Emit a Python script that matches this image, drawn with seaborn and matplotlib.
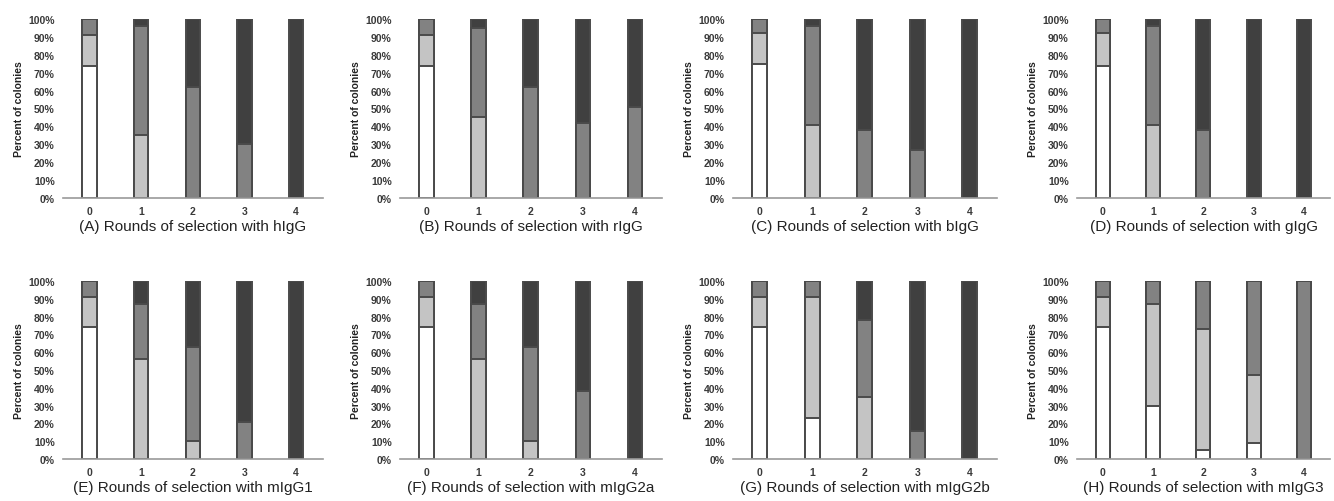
"""
Stacked percent bars of colony types over rounds of selection, 8 panels.
"""

import matplotlib.pyplot as plt
import numpy as np
import pandas as pd
import seaborn as sns

ROUNDS = ['0', '1', '2', '3', '4']

PANEL_TITLES = [
    '(A) Rounds of selection with hIgG',
    '(B) Rounds of selection with rIgG',
    '(C) Rounds of selection with bIgG',
    '(D) Rounds of selection with gIgG',
    '(E) Rounds of selection with mIgG1',
    '(F) Rounds of selection with mIgG2a',
    '(G) Rounds of selection with mIgG2b',
    '(H) Rounds of selection with mIgG3',
]

# percent of colonies per round, bottom -> top segment
WHITE = [
    [74, 0, 0, 0, 0],
    [74, 0, 0, 0, 0],
    [75, 0, 0, 0, 0],
    [74, 0, 0, 0, 0],
    [74, 0, 0, 0, 0],
    [74, 0, 0, 0, 0],
    [74, 23, 0, 0, 0],
    [74, 30, 5, 9, 0],
]
LIGHT = [
    [17, 35, 0, 0, 0],
    [17, 45, 0, 0, 0],
    [17, 41, 0, 0, 0],
    [18, 41, 0, 0, 0],
    [17, 56, 10, 0, 0],
    [17, 56, 10, 0, 0],
    [17, 68, 35, 0, 0],
    [17, 57, 68, 38, 0],
]
MID = [
    [9, 61, 62, 30, 0],
    [9, 50, 62, 42, 51],
    [8, 55, 38, 27, 0],
    [8, 55, 38, 0, 0],
    [9, 31, 53, 21, 0],
    [9, 31, 53, 38, 0],
    [9, 9, 43, 16, 0],
    [9, 13, 27, 53, 100],
]
DARK = [
    [0, 4, 38, 70, 100],
    [0, 5, 38, 58, 49],
    [0, 4, 62, 73, 100],
    [0, 4, 62, 100, 100],
    [0, 13, 37, 79, 100],
    [0, 13, 37, 62, 100],
    [0, 0, 22, 84, 100],
    [0, 0, 0, 0, 0],
]

SEGMENT_COLORS = ['#ffffff', '#c4c4c4', '#828282', '#404040']

W, H = 1334, 502
# axes boxes in pixels: (left, right, top, bottom)
COL_X = [(63, 323), (400, 662), (733, 997), (1077, 1330)]
ROW_Y = [(20, 199), (282, 460)]


def main():
    sns.set_theme(style='white')
    plt.rcParams['font.family'] = ['Liberation Sans', 'DejaVu Sans']

    fig = plt.figure(figsize=(W / 100, H / 100), dpi=100)

    for i, title in enumerate(PANEL_TITLES):
        r, c = divmod(i, 4)
        x0, x1 = COL_X[c]
        y0, y1 = ROW_Y[r]
        ax = fig.add_axes([x0 / W, 1 - y1 / H, (x1 - x0) / W, (y1 - y0) / H])

        segs = np.array([WHITE[i], LIGHT[i], MID[i], DARK[i]], dtype=float)
        cum = segs.cumsum(axis=0)

        # draw cumulative heights from the top down so each layer shows its slice
        for k in range(3, -1, -1):
            df = pd.DataFrame({'round': ROUNDS, 'pct': cum[k]})
            sns.barplot(
                data=df, x='round', y='pct', ax=ax, width=0.28,
                color=SEGMENT_COLORS[k], edgecolor='#4a4a4a', linewidth=1.4,
                saturation=1, errorbar=None,
            )

        ax.set_xlim(-0.51, 4.52)
        ax.set_ylim(0, 100)
        ax.set_yticks(range(0, 101, 10))
        ax.set_yticklabels([f'{v}%' for v in range(0, 101, 10)])
        ax.tick_params(axis='y', length=0, labelsize=7.5, labelcolor='#3a3a3a', pad=6)
        ax.tick_params(axis='x', length=0, labelsize=7.5, labelcolor='#3a3a3a', pad=6)
        for lab in ax.get_xticklabels() + ax.get_yticklabels():
            lab.set_fontweight('bold')

        ax.set_ylabel('Percent of colonies', fontsize=7.5, fontweight='bold',
                      color='#222222', labelpad=3)
        ax.set_xlabel(title, fontsize=11, color='#222222', labelpad=2)

        for side in ['left', 'right', 'top']:
            ax.spines[side].set_visible(False)
        ax.spines['bottom'].set_color('#9a9a9a')
        ax.spines['bottom'].set_linewidth(1.2)

    fig.savefig('out.png', dpi=100)
    plt.close(fig)


if __name__ == "__main__":
    main()
